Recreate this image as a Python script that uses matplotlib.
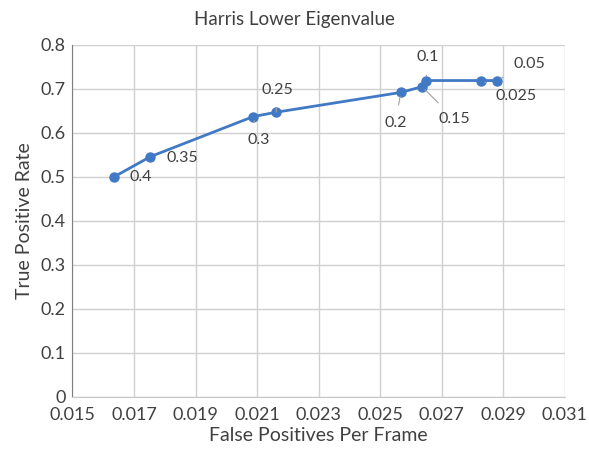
import matplotlib
matplotlib.use("Agg")
import matplotlib.pyplot as plt

thresholds = ["0.4", "0.35", "0.3", "0.25", "0.2", "0.15", "0.1", "0.025", "0.05"]
fpr = [0.01635, 0.01753, 0.02087, 0.02162, 0.02567, 0.02636, 0.02649, 0.02828, 0.02880]
tpr = [0.500, 0.546, 0.637, 0.647, 0.692, 0.705, 0.719, 0.719, 0.719]
x_ticks = [0.015, 0.017, 0.019, 0.021, 0.023, 0.025, 0.027, 0.029, 0.031]
y_ticks = [0, 0.1, 0.2, 0.3, 0.4, 0.5, 0.6, 0.7, 0.8]

# label offsets in points (dx, dy) and whether a leader line is drawn
label_offsets = {
    "0.4": (19, 0, False),
    "0.35": (23, -1, False),
    "0.3": (4, -17, True),
    "0.25": (1, 16, True),
    "0.2": (-4, -22, True),
    "0.15": (23, -23, True),
    "0.1": (1, 17, True),
    "0.025": (25, -11, True),
    "0.05": (23, 12, True),
}

plt.rcParams['font.family'] = ['Lato', 'DejaVu Sans']
fig = plt.figure(figsize=(5.89, 4.49), dpi=100)
ax = fig.add_axes([0.123, 0.116, 0.836, 0.784])

color = '#4179c4'
ax.plot(fpr, tpr, color=color, lw=2, marker='o', ms=6.5, zorder=3)

ax.set_xlim(0.015, 0.031)
ax.set_ylim(0, 0.8)
ax.set_xticks(x_ticks)
ax.set_xticklabels([f"{v:.3f}" for v in x_ticks])
ax.set_yticks(y_ticks)
ax.set_yticklabels(["0"] + [f"{v:.1f}" for v in y_ticks[1:]])
ax.grid(True, color='#d0d0d0', lw=1)
ax.set_axisbelow(True)
for s in ['top', 'right']:
    ax.spines[s].set_visible(False)
ax.spines['left'].set_color('#7f7f7f')
ax.spines['bottom'].set_color('#c8c8c8')
ax.tick_params(length=0, labelsize=13, colors='#404040')
ax.tick_params(axis='x', pad=7)
ax.tick_params(axis='y', pad=5)

for lab, x, y in zip(thresholds, fpr, tpr):
    dx, dy, leader = label_offsets[lab]
    ax.annotate(lab, (x, y), xytext=(dx, dy), textcoords='offset points',
                ha='center', va='center', fontsize=11.5, color='#404040',
                arrowprops=dict(arrowstyle='-', color='#a0a0a0', lw=0.8,
                                shrinkA=6, shrinkB=3) if leader else None)

ax.set_xlabel("False Positives Per Frame", fontsize=14, color='#404040', labelpad=3)
ax.set_ylabel("True Positive Rate", fontsize=14, color='#404040', labelpad=5)
fig.text(0.5, 0.957, "Harris Lower Eigenvalue", ha='center', va='center',
         fontsize=13.5, color='#404040')

fig.savefig("out.png", dpi=100, facecolor='white')
